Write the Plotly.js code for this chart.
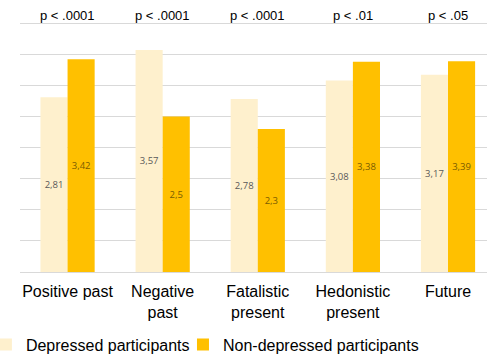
<!DOCTYPE html>
<html>
<head>
<meta charset="utf-8">
<script src="https://cdn.plot.ly/plotly-3.0.1.min.js"></script>
<style>html,body{margin:0;padding:0;background:#fff;}#chart{width:489px;height:354px;}</style>
</head>
<body>
<div id="chart"></div>
<script>
const categories = ['Positive past', 'Negative<br>past', 'Fatalistic<br>present', 'Hedonistic<br>present', 'Future'];
const depressed = [2.81, 3.57, 2.78, 3.08, 3.17];
const nonDepressed = [3.42, 2.5, 2.3, 3.38, 3.39];
const pLabels = ['p < .0001', 'p < .0001', 'p < .0001', 'p < .01', 'p < .05'];
const seriesNames = ['Depressed participants', 'Non-depressed participants'];

const fmt = v => String(v).replace('.', ',');

const traces = [
  {
    type: 'bar', name: seriesNames[0], x: categories, y: depressed, legend: 'legend',
    text: depressed.map(fmt), textposition: 'inside', insidetextanchor: 'middle',
    textfont: {family: 'Open Sans, sans-serif', size: 9.5, color: '#595959'},
    marker: {color: '#FEF0CD'}, hoverinfo: 'none'
  },
  {
    type: 'bar', name: seriesNames[1], x: categories, y: nonDepressed, legend: 'legend2',
    text: nonDepressed.map(fmt), textposition: 'inside', insidetextanchor: 'middle',
    textfont: {family: 'Open Sans, sans-serif', size: 9.5, color: '#7a5c00'},
    marker: {color: '#FFC000'}, hoverinfo: 'none'
  }
];

const annotations = categories.map((c, i) => ({
  x: c, y: 1, xref: 'x', yref: 'paper', yanchor: 'bottom', yshift: -8,
  text: pLabels[i], showarrow: false,
  font: {family: 'Liberation Sans, Arial, sans-serif', size: 13, color: '#000'}
}));

const legendFont = {family: 'Liberation Sans, Arial, sans-serif', size: 16, color: '#000'};

const layout = {
  width: 489, height: 354,
  margin: {l: 20, r: 2, t: 17, b: 82, autoexpand: false},
  paper_bgcolor: '#fff', plot_bgcolor: '#fff',
  barmode: 'group', bargap: 0.43, bargroupgap: 0,
  xaxis: {
    type: 'category', range: [-0.5, 4.41], showgrid: false, showline: false, zeroline: false,
    ticks: '', ticklabelstandoff: 8,
    tickfont: {family: 'Liberation Sans, Arial, sans-serif', size: 16, color: '#000'}
  },
  yaxis: {
    range: [0, 4.1], tickmode: 'linear', tick0: 0, dtick: 0.5, showticklabels: false, showgrid: true,
    gridcolor: '#d9d9d9', gridwidth: 1, zeroline: true, zerolinecolor: '#d9d9d9', zerolinewidth: 1,
    showline: false, ticks: ''
  },
  showlegend: true,
  legend: {
    orientation: 'h', x: -0.073, xanchor: 'left', y: -0.29 * 250 / 255, yanchor: 'middle',
    font: legendFont, itemwidth: 30, bgcolor: 'rgba(0,0,0,0)'
  },
  legend2: {
    orientation: 'h', x: 0.349, xanchor: 'left', y: -0.29 * 250 / 255, yanchor: 'middle',
    font: legendFont, itemwidth: 30, bgcolor: 'rgba(0,0,0,0)'
  },
  annotations: annotations,
  font: {family: 'Liberation Sans, Arial, sans-serif'}
};

Plotly.newPlot('chart', traces, layout, {displayModeBar: false, staticPlot: true});
</script>
</body>
</html>
